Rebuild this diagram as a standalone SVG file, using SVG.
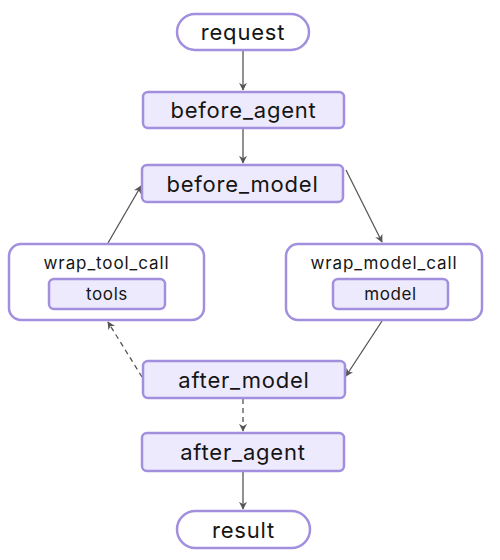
<svg xmlns="http://www.w3.org/2000/svg" width="500" height="560" viewBox="0 0 500 560">
<defs>
<marker id="ah" viewBox="0 0 10 10" refX="9" refY="5" markerWidth="8" markerHeight="8" orient="auto" markerUnits="userSpaceOnUse">
<path d="M0,0 L10,5 L0,10 L3,5 Z" fill="#555"/>
</marker>
<style>
.pill{fill:#fff;stroke:#a28fde;stroke-width:2.5}
.box{fill:#eeeafd;stroke:#a28fde;stroke-width:2.5}
.grp{fill:#fff;stroke:#a28fde;stroke-width:2.5}
.t{font-family:Inter,"Liberation Sans",sans-serif;fill:#151515;text-anchor:middle;dominant-baseline:central}
.big{font-size:22px;letter-spacing:0.8px}
.mid{font-size:17px;letter-spacing:0.9px}
.sm{font-size:17px;letter-spacing:0.6px}
.e{stroke:#555;stroke-width:1.3;fill:none;marker-end:url(#ah)}
.d{stroke-dasharray:5,4}
</style>
</defs>
<g id="connectors">
<line class="e" x1="243" y1="51" x2="243" y2="90"/>
<line class="e" x1="243" y1="129" x2="243" y2="163"/>
<line class="e" x1="346" y1="170" x2="382" y2="242"/>
<line class="e" x1="108" y1="243" x2="141" y2="186"/>
<line class="e" x1="382" y1="321" x2="346" y2="376"/>
<line class="e d" x1="142" y1="377" x2="108" y2="322"/>
<line class="e d" x1="243" y1="399" x2="243" y2="431"/>
<line class="e" x1="243" y1="472" x2="243" y2="509"/>
</g>
<g id="request">
<rect class="pill" x="177" y="14" width="132" height="36" rx="18"/>
<text class="t big" x="243" y="32">request</text>
</g>
<g id="before_agent">
<rect class="box" x="143" y="92" width="201" height="36" rx="5"/>
<text class="t big" x="243.5" y="110">before_agent</text>
</g>
<g id="before_model">
<rect class="box" x="142" y="165" width="201" height="37" rx="5"/>
<text class="t big" x="242.5" y="183.5">before_model</text>
</g>
<g id="wrap_tool_call">
<rect class="grp" x="9" y="244" width="195" height="76" rx="12"/>
<text class="t mid" x="106.5" y="263">wrap_tool_call</text>
<g id="tools">
<rect class="box" x="49" y="279" width="116" height="30" rx="5"/>
<text class="t sm" x="107" y="294">tools</text>
</g>
</g>
<g id="wrap_model_call">
<rect class="grp" x="286" y="244" width="196" height="76" rx="12"/>
<text class="t mid" x="384" y="263">wrap_model_call</text>
<g id="model">
<rect class="box" x="333" y="279" width="115" height="30" rx="5"/>
<text class="t sm" x="390.5" y="294">model</text>
</g>
</g>
<g id="after_model">
<rect class="box" x="143" y="361" width="202" height="37" rx="5"/>
<text class="t big" x="244" y="379.5">after_model</text>
</g>
<g id="after_agent">
<rect class="box" x="142" y="433" width="202" height="38" rx="5"/>
<text class="t big" x="243" y="452">after_agent</text>
</g>
<g id="result">
<rect class="pill" x="177" y="511" width="133" height="37" rx="18.5"/>
<text class="t big" x="243.5" y="529.5">result</text>
</g>
</svg>
